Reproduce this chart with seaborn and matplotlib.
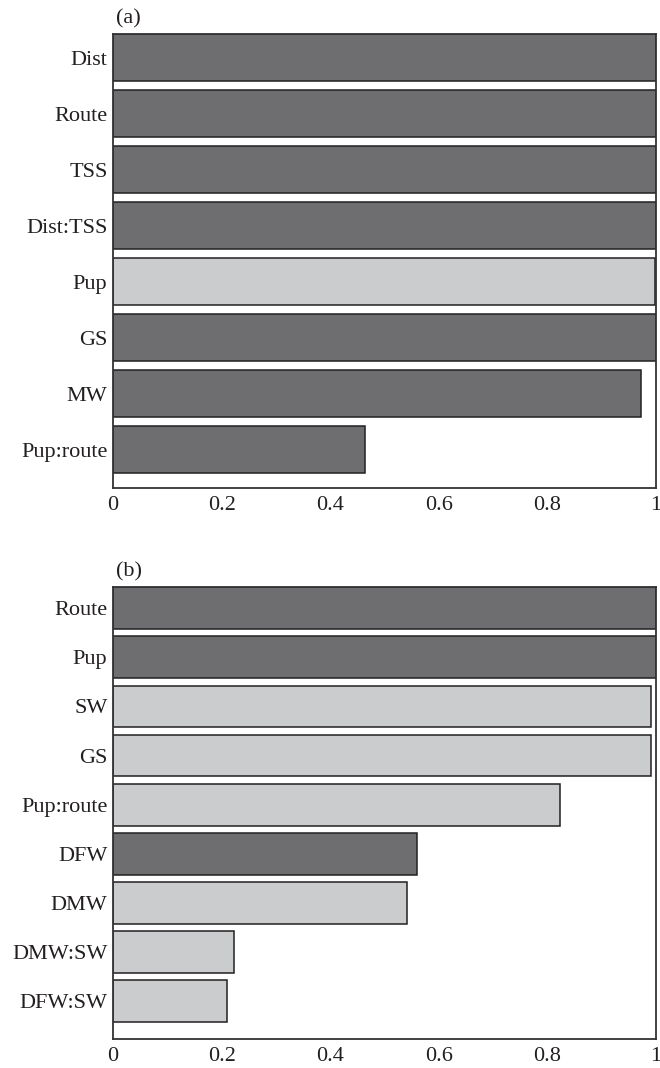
import matplotlib
matplotlib.use("Agg")
import matplotlib.pyplot as plt
import seaborn as sns
import pandas as pd

# Panel (a)
a_terms = ["Dist", "Route", "TSS", "Dist:TSS", "Pup", "GS", "MW", "Pup:route"]
a_values = [1.0, 1.0, 1.0, 1.0, 0.999, 1.0, 0.972, 0.465]
a_shade = ["dark", "dark", "dark", "dark", "light", "dark", "dark", "dark"]

# Panel (b)
b_terms = ["Route", "Pup", "SW", "GS", "Pup:route", "DFW", "DMW", "DMW:SW", "DFW:SW"]
b_values = [1.0, 1.0, 0.991, 0.991, 0.823, 0.559, 0.542, 0.223, 0.210]
b_shade = ["dark", "dark", "light", "light", "light", "dark", "light", "light", "light"]

x_ticks = [0, 0.2, 0.4, 0.6, 0.8, 1.0]
x_ticklabels = ["0", "0.2", "0.4", "0.6", "0.8", "1"]

sns.set_theme(style="white")
plt.rcParams["font.family"] = ["Liberation Serif", "DejaVu Serif"]

DARK = "#6d6e71"
LIGHT = "#cbcccd"
EDGE = "#231f20"
palette = {"dark": DARK, "light": LIGHT}
FS = 16

fig = plt.figure(figsize=(6.6, 10.68), dpi=100)
ax_a = fig.add_axes([113 / 660, 1 - 488 / 1068, 543 / 660, 454 / 1068])
ax_b = fig.add_axes([113 / 660, 1 - 1039 / 1068, 543 / 660, 452 / 1068])


def draw(ax, terms, values, shade, width, ylim, tag):
    df = pd.DataFrame({"term": terms, "value": values, "shade": shade})
    sns.barplot(data=df, x="value", y="term", hue="shade", palette=palette,
                order=terms, hue_order=["dark", "light"], dodge=False,
                width=width, edgecolor=EDGE, linewidth=1.1, legend=False, ax=ax)
    ax.set_xlim(0, 1)
    ax.set_ylim(*ylim)
    ax.set_xlabel("")
    ax.set_ylabel("")
    ax.set_xticks(x_ticks)
    ax.set_xticklabels(x_ticklabels, fontsize=FS)
    ax.tick_params(axis="x", direction="in", length=5, width=1.0,
                   color="#333333", pad=6, labelcolor="#231f20")
    ax.tick_params(axis="y", length=0, pad=4, labelsize=FS, labelcolor="#231f20")
    for s in ax.spines.values():
        s.set_visible(True)
        s.set_color("#333333")
        s.set_linewidth(1.3)
    ax.text(0.005, 1.012, tag, transform=ax.transAxes, ha="left", va="bottom",
            fontsize=FS, color="#231f20")


draw(ax_a, a_terms, a_values, a_shade, 0.84, (7.68, -0.42), "(a)")
draw(ax_b, b_terms, b_values, b_shade, 0.85, (8.77, -0.43), "(b)")

fig.savefig("out.png", dpi=100, facecolor="white")
